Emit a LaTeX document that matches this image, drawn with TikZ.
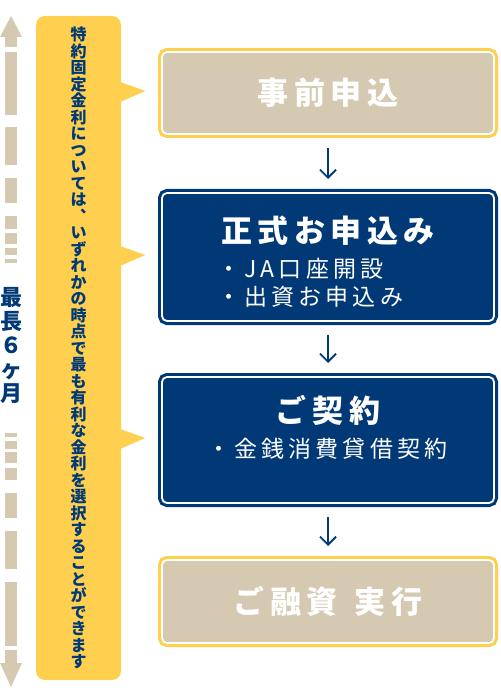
\documentclass[tikz,border=0pt]{standalone}
\usepackage{fontspec}
\setmainfont{Noto Sans CJK JP}
\newfontfamily\widefont{Noto Sans CJK JP}[LetterSpace=18]
\usetikzlibrary{arrows.meta,positioning,calc}
\definecolor{jayellow}{RGB}{255,207,79}
\definecolor{jabeige}{RGB}{213,201,178}
\definecolor{janavy}{RGB}{0,57,118}

\begin{document}
\begin{tikzpicture}[x=1pt, y=-1pt,
  stepbox/.style={rounded corners=5pt, minimum width=332pt, inner sep=0pt, outer sep=0pt, draw=white, line width=1.8pt, text=white, font=\widefont\bfseries\fontsize{31}{33}\selectfont},
  lightbox/.style={stepbox, fill=jabeige, preaction={draw=jayellow, line width=8pt}},
  darkbox/.style={stepbox, fill=janavy, preaction={draw=janavy, line width=8pt}},
  head/.style={inner sep=0pt, text=white, font=\widefont\bfseries\fontsize{31}{33}\selectfont},
  items/.style={inner sep=0pt, anchor=north west, align=left, text=white, font=\widefont\fontsize{23}{27.5}\selectfont},
  note/.style={fill=jayellow, rounded corners=9pt, minimum width=85pt, minimum height=664pt, inner sep=0pt, align=center, text=janavy, font=\bfseries\fontsize{16}{16.5}\selectfont},
  span/.style={inner sep=0pt, align=center, text=janavy, font=\bfseries\fontsize{22}{24}\selectfont},
  flowarr/.style={-{Straight Barb[length=8pt,width=16pt]}, line width=1.8pt, janavy, shorten <=14pt, shorten >=14pt}
]
\useasboundingbox (0,0) rectangle (500,700);

% left: period bar
\fill[jabeige] (0,37) -- (11,16) -- (22,37) -- cycle;
\fill[jabeige] (0,663) -- (11,687) -- (22,663) -- cycle;
\foreach \a/\b in {37/47,52/115,127/165,178/203,216/229,233/244,248/255,259/263,433/437,441/449,452/463,468/480,493/518,531/569,582/646,650/663}
  \fill[jabeige] (5,\a) rectangle (17,\b);
\node[span] (period) at (11,345) {最\\長\\６\\ヶ\\月};

% steps
\node[lightbox, minimum height=82pt] (pre) at (328,93) {事前申込};
\node[darkbox, minimum height=128pt, below=59pt of pre] (apply) {};
\node[head] (applyhead) at ([yshift=-37.5pt]apply.north) {正式お申込み};
\node[items] (applylist) at ([xshift=55pt,yshift=-65pt]apply.north west) {・JA口座開設\\・出資お申込み};
\node[darkbox, minimum height=126pt, below=56pt of apply] (contract) {};
\node[head] (contracthead) at ([yshift=-33.5pt]contract.north) {ご契約};
\node[items] (contractlist) at ([xshift=45pt,yshift=-61pt]contract.north west) {・金銭消費貸借契約};
\node[lightbox, minimum height=83pt, below=57pt of contract] (loan) {ご融資\hspace{17pt}実行};

\draw[flowarr] (pre) -- (apply);
\draw[flowarr] (apply) -- (contract);
\draw[flowarr] (contract) -- (loan);

% callout
\node[note] (fixed) at (78.5,348) {特\\約\\固\\定\\金\\利\\に\\つ\\い\\て\\は\\︑\\い\\ず\\れ\\か\\の\\時\\点\\で\\最\\も\\有\\利\\な\\金\\利\\を\\選\\択\\す\\る\\こ\\と\\が\\で\\き\\ま\\す};
\foreach \b in {pre,apply,contract}
  \fill[jayellow] ($(fixed.east |- \b.center)+(-1,-11)$) -- ($(fixed.east |- \b.center)+(24,-2)$) -- ($(fixed.east |- \b.center)+(-1,9)$) -- cycle;

\end{tikzpicture}
\end{document}
